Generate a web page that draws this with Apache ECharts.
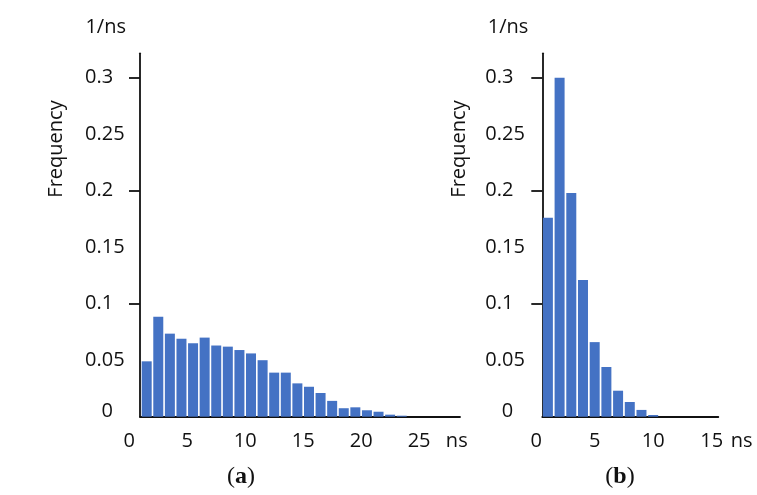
<!DOCTYPE html>
<html><head><meta charset="utf-8">
<script src="https://cdn.jsdelivr.net/npm/echarts@6/dist/echarts.min.js"></script>
<style>html,body{margin:0;padding:0;background:#fff}#c{width:757px;height:495px}</style>
</head><body><div id="c"></div>
<script>
// Panel (a): bin centres (ns) and frequencies (1/ns)
const binsA = [1.5,2.5,3.5,4.5,5.5,6.5,7.5,8.5,9.5,10.5,11.5,12.5,13.5,14.5,15.5,16.5,17.5,18.5,19.5,20.5,21.5,22.5,23.5];
const freqA = [0.049,0.0885,0.0735,0.069,0.065,0.070,0.063,0.062,0.059,0.056,0.050,0.039,0.039,0.0295,0.0265,0.021,0.014,0.0075,0.0083,0.0057,0.0044,0.0018,0.0009];
// Panel (b)
const binsB = [1,2,3,4,5,6,7,8,9,10];
const freqB = [0.176,0.300,0.198,0.121,0.066,0.044,0.023,0.013,0.006,0.0015];
// Tick labels
const yTicks = [0,0.05,0.1,0.15,0.2,0.25,0.3];
const yMajor = [0.1,0.2,0.3];
const xTicksA = [0,5,10,15,20,25];
const xTicksB = [0,5,10,15];
const xUnit = 'ns', yUnit = '1/ns', yTitle = 'Frequency';
const panelA = 'a', panelB = 'b';

const FONT = "'Open Sans', sans-serif";
const FS = 20;
const TXT = '#111';
const BLUE = '#4472C4';
const AX = '#111';
const TOP = 53.3, H = 363.4;
const YMAX = 0.3216;

function yLabelFmt(v){ return v === 0 ? '{z|0}' : String(v); }
function visY(grid, margin){
  return {
    gridIndex: grid, type: 'value', min: 0, max: YMAX,
    axisLine: {show: true, lineStyle: {color: AX, width: 1.8}},
    axisTick: {show: true, customValues: yMajor, length: 11, lineStyle: {color: AX, width: 1.8}},
    axisLabel: {customValues: yTicks, align: 'left', margin: margin, fontFamily: FONT, fontSize: FS, color: TXT,
      formatter: yLabelFmt, rich: {z: {fontFamily: FONT, fontSize: FS, color: TXT, width: 28, align: 'right', padding: [0,0,10,0]}}},
    splitLine: {show: false},
    name: yUnit, nameLocation: 'end', nameGap: 16,
    nameTextStyle: {fontFamily: FONT, fontSize: FS, color: TXT, align: 'right', padding: [0, 14, 0, 0]}
  };
}
function hidY(grid){
  return {gridIndex: grid, type: 'value', min: 0, max: YMAX, show: false};
}
function lineX(grid){
  return {gridIndex: grid, type: 'value', min: 0, max: 1,
    axisLine: {show: true, onZero: false, lineStyle: {color: AX, width: 1.8}},
    axisTick: {show: false}, axisLabel: {show: false}, splitLine: {show: false}};
}
function labX(grid, max, ticks, unitPos){
  const vals = ticks.concat([unitPos]);
  return {gridIndex: grid, type: 'value', min: 0, max: max,
    axisLine: {show: false}, axisTick: {show: false}, splitLine: {show: false},
    axisLabel: {customValues: vals, margin: 15, fontFamily: FONT, fontSize: FS, color: TXT,
      formatter: function(v){ return v === unitPos ? xUnit : String(v); }}};
}
function panelTitle(letter, x){
  return {text: '({b|' + letter + '})', left: x, top: 460, textAlign: 'center',
    textStyle: {fontFamily: "'Liberation Serif', serif", fontSize: 24, fontWeight: 'normal', color: '#111',
      rich: {b: {fontFamily: "'Liberation Serif', serif", fontSize: 24, fontWeight: 'bold', color: '#111'}}}};
}

const chart = echarts.init(document.getElementById('c'), null, {renderer: 'canvas'});
chart.setOption({
  backgroundColor: '#fff',
  animation: false,
  grid: [
    {left: 140, top: TOP, width: 320, height: H},
    {left: 129.3, top: TOP, width: 335.7, height: H},
    {left: 542.3, top: TOP, width: 176, height: H},
    {left: 536.2, top: TOP, width: 215, height: H}
  ],
  xAxis: [
    lineX(0),
    labX(1, 28.96, xTicksA, 28.25),
    lineX(2),
    labX(3, 18.38, xTicksB, 17.56)
  ],
  yAxis: [visY(0, 55), hidY(1), visY(2, 57), hidY(3)],
  title: [panelTitle(panelA, 236), panelTitle(panelB, 615)],
  graphic: [
    {type: 'text', x: 56, y: 149, rotation: Math.PI / 2,
      style: {text: yTitle, fontFamily: FONT, fontSize: FS, fill: TXT, align: 'center', verticalAlign: 'middle'}},
    {type: 'text', x: 459, y: 149, rotation: Math.PI / 2,
      style: {text: yTitle, fontFamily: FONT, fontSize: FS, fill: TXT, align: 'center', verticalAlign: 'middle'}}
  ],
  series: [
    {type: 'bar', xAxisIndex: 1, yAxisIndex: 1, barWidth: 10, itemStyle: {color: BLUE},
      data: binsA.map((x, i) => [x, freqA[i]])},
    {type: 'bar', xAxisIndex: 3, yAxisIndex: 3, barWidth: 10, itemStyle: {color: BLUE},
      data: binsB.map((x, i) => [x, freqB[i]])}
  ]
});
</script></body></html>
